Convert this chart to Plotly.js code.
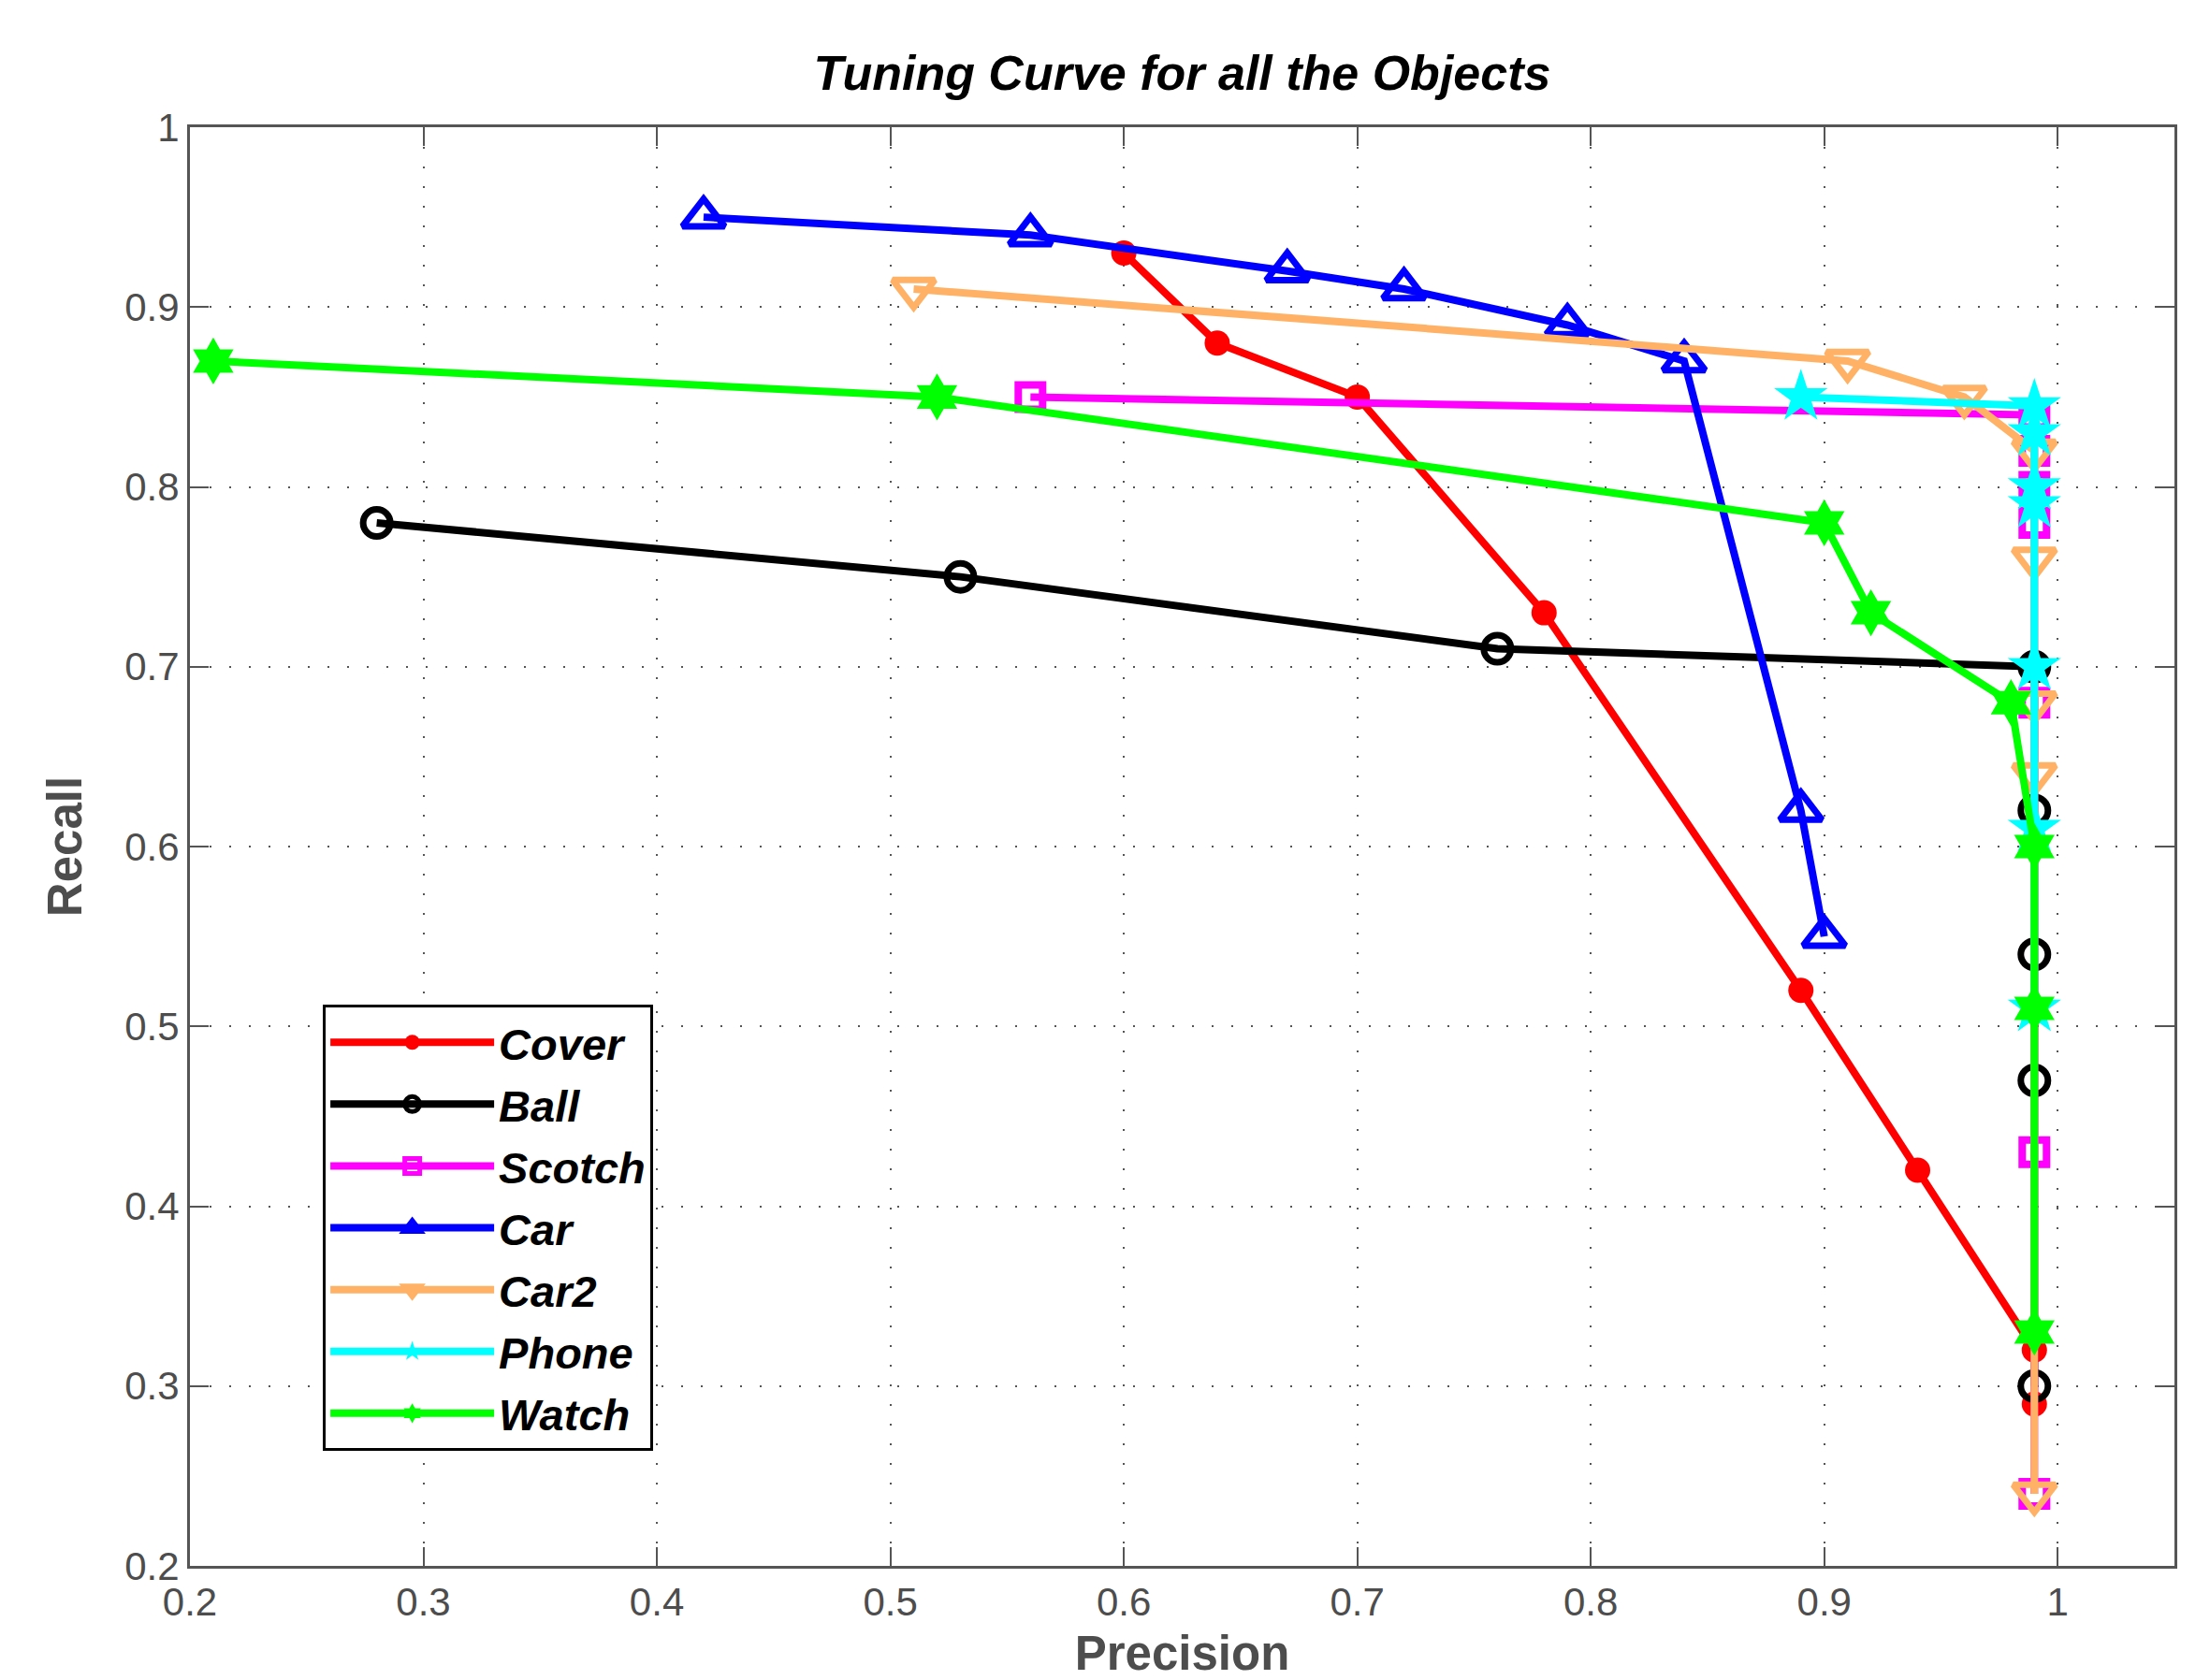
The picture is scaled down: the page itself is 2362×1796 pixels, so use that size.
<!DOCTYPE html>
<html>
<head>
<meta charset="utf-8">
<script src="https://cdn.plot.ly/plotly-3.0.1.min.js"></script>
<style>html,body{margin:0;padding:0;background:#fff;}#chart{width:2362px;height:1796px;}</style>
</head>
<body>
<div id="chart"></div>
<script>
// Precision / Recall values
var coverPrecision  = [0.60, 0.64, 0.70, 0.78, 0.89, 0.94, 0.99, 0.99];
var coverRecall     = [0.93, 0.88, 0.85, 0.73, 0.52, 0.42, 0.32, 0.29];
var ballPrecision   = [0.28, 0.53, 0.76, 0.99, 0.99, 0.99, 0.99, 0.99];
var ballRecall      = [0.78, 0.75, 0.71, 0.70, 0.62, 0.54, 0.47, 0.30];
var scotchPrecision = [0.56, 0.99, 0.99, 0.99, 0.99, 0.99, 0.99, 0.99];
var scotchRecall    = [0.85, 0.84, 0.82, 0.80, 0.78, 0.68, 0.43, 0.24];
var carPrecision    = [0.42, 0.56, 0.67, 0.72, 0.79, 0.84, 0.89, 0.90];
var carRecall       = [0.95, 0.94, 0.92, 0.91, 0.89, 0.87, 0.62, 0.55];
var car2Precision   = [0.51, 0.91, 0.96, 0.99, 0.99, 0.99, 0.99, 0.99];
var car2Recall      = [0.91, 0.87, 0.85, 0.82, 0.76, 0.68, 0.64, 0.24];
var phonePrecision  = [0.89, 0.99, 0.99, 0.99, 0.99, 0.99, 0.99, 0.99];
var phoneRecall     = [0.85, 0.845, 0.83, 0.80, 0.79, 0.70, 0.61, 0.51];
var watchPrecision  = [0.21, 0.52, 0.90, 0.92, 0.98, 0.99, 0.99, 0.99];
var watchRecall     = [0.87, 0.85, 0.78, 0.73, 0.68, 0.60, 0.51, 0.33];

var seriesNames = ["Cover", "Ball", "Scotch", "Car", "Car2", "Phone", "Watch"];
var tickValues = [0.2, 0.3, 0.4, 0.5, 0.6, 0.7, 0.8, 0.9, 1];
var tickLabels = ["0.2", "0.3", "0.4", "0.5", "0.6", "0.7", "0.8", "0.9", "1"];

var FONT = "Liberation Sans, Arial, Helvetica, sans-serif";
var LW = 8;

function mk(name, x, y, color, symbol, size, mlw) {
  return {
    type: "scatter", mode: "lines+markers", name: name, legendgroup: name,
    x: x, y: y,
    line: {color: color, width: LW},
    marker: {
      symbol: symbol, size: size, color: color,
      line: {color: color, width: mlw}
    }
  };
}

var data = [
  mk(seriesNames[0], coverPrecision, coverRecall, "#ff0000", "circle", 27, 0),
  mk(seriesNames[1], ballPrecision, ballRecall, "#000000", "circle-open", 29, 7),
  mk(seriesNames[2], scotchPrecision, scotchRecall, "#ff00ff", "square-open", 26, 8),
  mk(seriesNames[3], carPrecision, carRecall, "#0000ff", "triangle-up-open", 39, 7),
  mk(seriesNames[4], car2Precision, car2Recall, "#ffb266", "triangle-down-open", 39, 7),
  mk(seriesNames[5], phonePrecision, phoneRecall, "#00ffff", "star", 43, 0),
  mk(seriesNames[6], watchPrecision, watchRecall, "#00ff00", "hexagram", 38, 0)
];

var axisCommon = {
  showline: true, linecolor: "#555555", linewidth: 3, mirror: "ticks",
  ticks: "inside", ticklen: 20, tickwidth: 2, tickcolor: "#555555",
  showgrid: true, gridcolor: "#555555", gridwidth: 2, griddash: "2px,19px",
  zeroline: false,
  tickvals: tickValues, ticktext: tickLabels,
  tickfont: {family: FONT, size: 42, color: "#4d4d4d"}
};

var layout = {
  width: 2362, height: 1796,
  paper_bgcolor: "#ffffff", plot_bgcolor: "#ffffff",
  margin: {l: 203, r: 38, t: 136, b: 122},
  showlegend: true,
  title: {
    text: "Tuning Curve for all the Objects",
    font: {family: FONT, size: 52, color: "#000000", weight: "bold", style: "italic"},
    x: 0.5, xref: "paper", xanchor: "center",
    y: 1 - 78/1796, yref: "container", yanchor: "middle"
  },
  xaxis: Object.assign({}, axisCommon, {
    range: [0.2, 1.05],
    title: {text: "Precision", standoff: 25,
            font: {family: FONT, size: 51, color: "#4d4d4d", weight: "bold"}}
  }),
  yaxis: Object.assign({}, axisCommon, {
    range: [0.2, 1],
    title: {text: "Recall", standoff: 30,
            font: {family: FONT, size: 51, color: "#4d4d4d", weight: "bold"}}
  }),
  legend: {
    x: 0.067, y: 0.39, xanchor: "left", yanchor: "top",
    xref: "paper", yref: "paper",
    bgcolor: "#ffffff", bordercolor: "#000000", borderwidth: 3,
    font: {family: FONT, size: 47, color: "#000000", weight: "bold", style: "italic"},
    tracegroupgap: 2, traceorder: "grouped", itemwidth: 175
  }
};

Plotly.newPlot("chart", data, layout, {staticPlot: true, displayModeBar: false});
</script>
</body>
</html>
